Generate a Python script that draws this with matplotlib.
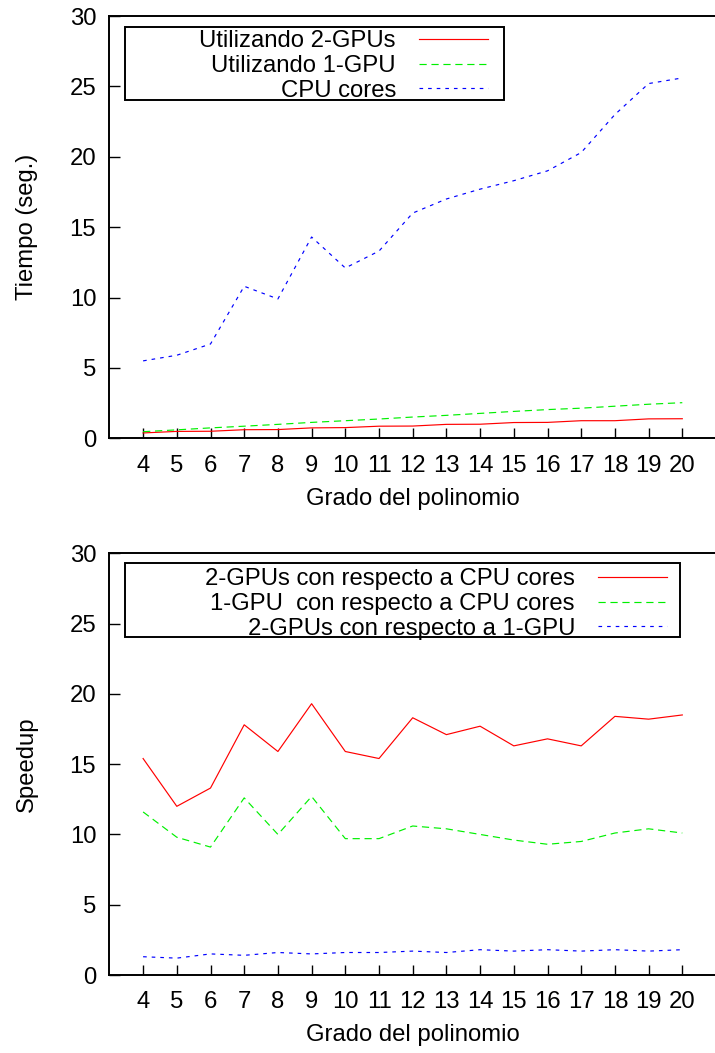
import matplotlib
matplotlib.use("Agg")
import matplotlib.pyplot as plt
from matplotlib.patches import Rectangle

# ---------------------------------------------------------------------------
# Data
# ---------------------------------------------------------------------------

grado = [4, 5, 6, 7, 8, 9, 10, 11, 12, 13, 14, 15, 16, 17, 18, 19, 20]

# Tiempo (seg.)
t_2gpus = [0.38, 0.49, 0.50, 0.61, 0.62, 0.74, 0.76, 0.86, 0.87, 0.99, 1.00,
           1.12, 1.13, 1.25, 1.25, 1.38, 1.39]
t_1gpu = [0.47, 0.60, 0.74, 0.86, 0.99, 1.13, 1.25, 1.37, 1.51, 1.63, 1.77,
          1.91, 2.04, 2.14, 2.28, 2.42, 2.53]
t_cpu = [5.5, 5.9, 6.7, 10.8, 9.9, 14.3, 12.1, 13.3, 16.0, 17.0, 17.7,
         18.3, 19.0, 20.3, 23.0, 25.2, 25.6]

# Speedup
sp_2gpus_cpu = [15.4, 12.0, 13.3, 17.8, 15.9, 19.3, 15.9, 15.4, 18.3, 17.1,
                17.7, 16.3, 16.8, 16.3, 18.4, 18.2, 18.5]
sp_1gpu_cpu = [11.6, 9.8, 9.1, 12.6, 10.0, 12.7, 9.7, 9.7, 10.6, 10.4,
               10.0, 9.6, 9.3, 9.5, 10.1, 10.4, 10.1]
sp_2gpus_1gpu = [1.3, 1.2, 1.5, 1.4, 1.6, 1.5, 1.6, 1.6, 1.7, 1.6,
                 1.8, 1.7, 1.8, 1.7, 1.8, 1.7, 1.8]

labels_top = ["Utilizando 2-GPUs", "Utilizando 1-GPU", "CPU cores"]
labels_bot = ["2-GPUs con respecto a CPU cores",
              "1-GPU  con respecto a CPU cores",
              "2-GPUs con respecto a 1-GPU"]

yticks = [0, 5, 10, 15, 20, 25, 30]

# ---------------------------------------------------------------------------
# Style
# ---------------------------------------------------------------------------

FS = 17.2
plt.rcParams["font.family"] = ["Liberation Sans", "DejaVu Sans"]
plt.rcParams["font.size"] = FS
plt.rcParams["lines.scale_dashes"] = False

RED = "#ff0000"
GREEN = "#00f000"
BLUE = "#0000ff"
LW = 0.85
STYLES = [
    dict(color=RED, lw=LW, ls="-"),
    dict(color=GREEN, lw=LW, ls=(0, (5.2, 3.4))),
    dict(color=BLUE, lw=LW, ls=(0, (2.6, 3.6))),
]

W, H = 715, 1053
fig = plt.figure(figsize=(W / 100, H / 100), dpi=100)

AX_L, AX_R = 109.4, 716.0


def _axes(top_px, bot_px):
    return fig.add_axes([AX_L / W, 1 - bot_px / H,
                         (AX_R - AX_L) / W, (bot_px - top_px) / H])


def _setup(ax, ylabel):
    ax.set_xlim(3, 21)
    ax.set_ylim(0, 30)
    ax.set_xticks(grado)
    ax.set_yticks(yticks)
    ax.tick_params(axis="x", direction="in", length=7.2, width=1.0,
                   pad=11.8, top=False, labelsize=FS)
    ax.tick_params(axis="y", direction="in", length=7.8, width=1.0,
                   pad=9.5, right=False, labelsize=FS)
    for s in ax.spines.values():
        s.set_linewidth(1.4)
    ax.set_xlabel("Grado del polinomio", fontsize=FS)
    ax.set_ylabel(ylabel, fontsize=FS)
    ax.xaxis.set_label_coords(0.5, -0.117)
    ax.yaxis.set_label_coords(-0.118, 0.5)


def _key(ax, handles, labels, box, right, top):
    x0, y0, x1, y1 = box
    ax.add_patch(Rectangle((x0, y0), x1 - x0, y1 - y0, transform=ax.transAxes,
                           fill=False, lw=1.4, ec="black", zorder=5))
    ax.legend(handles, labels, loc="upper right", bbox_to_anchor=(right, top),
              bbox_transform=ax.transAxes, frameon=False, markerfirst=False,
              borderpad=0, borderaxespad=0, labelspacing=0.11,
              handlelength=2.9, handletextpad=0.95, fontsize=FS)


# ---------------------------------------------------------------------------
# Top: tiempo
# ---------------------------------------------------------------------------

ax1 = _axes(16.0, 438.3)
h = []
for ys, st in zip([t_2gpus, t_1gpu, t_cpu], STYLES):
    h += ax1.plot(grado, ys, **st)
_setup(ax1, "Tiempo (seg.)")
_key(ax1, h, labels_top, (0.026, 0.800, 0.6505, 0.9734), 0.624, 0.9660)

# ---------------------------------------------------------------------------
# Bottom: speedup
# ---------------------------------------------------------------------------

ax2 = _axes(553.3, 975.0)
h = []
for ys, st in zip([sp_2gpus_cpu, sp_1gpu_cpu, sp_2gpus_1gpu], STYLES):
    h += ax2.plot(grado, ys, **st)
_setup(ax2, "Speedup")
_key(ax2, h, labels_bot, (0.026, 0.8015, 0.9407, 0.977), 0.919, 0.9645)

fig.savefig("out.png", dpi=100)
